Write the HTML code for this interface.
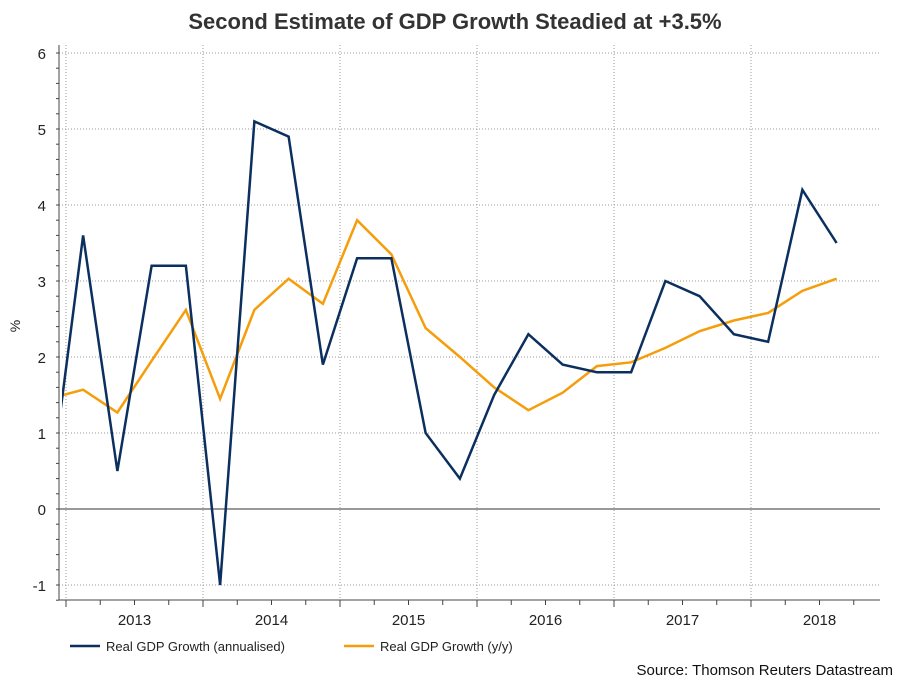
<!DOCTYPE html>
<html><head><meta charset="utf-8"><style>
body{margin:0;background:#fff;width:909px;height:682px;overflow:hidden;font-family:"Liberation Sans",sans-serif}
</style></head><body>
<svg id="c" width="909" height="682">
<text x="455" y="29" text-anchor="middle" font-size="22" font-weight="bold" fill="#333">Second Estimate of GDP Growth Steadied at +3.5%</text>
<text x="20" y="326" font-size="14" fill="#222" transform="rotate(-90 20 326)" text-anchor="middle">%</text>
<g id="grid"></g><g id="axes"></g>
<clipPath id="clip"><rect x="62" y="40" width="819" height="560"/></clipPath>
<g id="series" clip-path="url(#clip)"></g>
<g>
<line x1="70" y1="646" x2="100" y2="646" stroke="#0b2f5e" stroke-width="2.5"/>
<text x="106" y="651" font-size="13" fill="#222">Real GDP Growth (annualised)</text>
<line x1="344" y1="646" x2="374" y2="646" stroke="#f59d0a" stroke-width="2.5"/>
<text x="380" y="651" font-size="13" fill="#222">Real GDP Growth (y/y)</text>
</g>
<text x="893" y="675" text-anchor="end" font-size="15" fill="#111">Source: Thomson Reuters Datastream</text>
</svg>
<script>
const years=["2013","2014","2015","2016","2017","2018"];
const yTicks=[-1,0,1,2,3,4,5,6];
const annualised=[0.1,3.6,0.5,3.2,3.2,-1.0,5.1,4.9,1.9,3.3,3.3,1.0,0.4,1.5,2.3,1.9,1.8,1.8,3.0,2.8,2.3,2.2,4.2,3.5];
const yoy=[1.45,1.57,1.27,1.95,2.62,1.45,2.62,3.03,2.7,3.8,3.35,2.38,2.0,1.6,1.3,1.53,1.88,1.93,2.12,2.34,2.48,2.58,2.87,3.03];
const NS="http://www.w3.org/2000/svg";
const yS=v=>509-v*76;
const x0=66,yw=137,q=yw/4;
const xS=i=>x0+(i-1)*q+q/2;
function el(t,a,p){const e=document.createElementNS(NS,t);for(const k in a)e.setAttribute(k,a[k]);document.getElementById(p).appendChild(e);return e;}
yTicks.forEach(v=>{
 const g=el('line',{x1:59,x2:880,y1:yS(v),y2:yS(v),stroke:v===0?'#333':'#999','stroke-dasharray':v===0?'':'1,2','stroke-width':1},'grid');
 
 
 const t=el('text',{x:46,y:yS(v)+6,'text-anchor':'end','font-size':15,fill:'#222'},'axes');t.textContent=v;
 
 
});
for(let v=-1.2;v<=6.01;v+=0.2){el('line',{x1:56,x2:59,y1:yS(v),y2:yS(v),stroke:'#444'},'axes');}
years.forEach((y,k)=>{
 const xs=x0+k*yw;
 const g=el('line',{x1:xs,x2:xs,y1:45,y2:600,stroke:'#999','stroke-dasharray':'1,2'},'grid');
 
 
 const t=el('text',{x:xs+yw/2,y:625,'text-anchor':'middle','font-size':15,fill:'#222'},'axes');t.textContent=y;
 
 
 for(let j=0;j<4;j++){const xx=xs+j*q;el('line',{x1:xx,x2:xx,y1:600,y2:j?605:607,stroke:'#444'},'axes');}
});
el('line',{x1:59,x2:59,y1:45,y2:600,stroke:'#444'},'axes');
el('line',{x1:59,x2:880,y1:600,y2:600,stroke:'#444'},'axes');
function line(d,c,n){const p=el('polyline',{points:d.map((v,i)=>xS(i)+','+yS(v)).join(' '),fill:'none',stroke:c,'stroke-width':2.5,'stroke-linejoin':'miter'},'series');
 
 }
line(yoy,'#f59d0a','line-yoy');
line(annualised,'#0b2f5e','line-annualised');
</script>
</body></html>
